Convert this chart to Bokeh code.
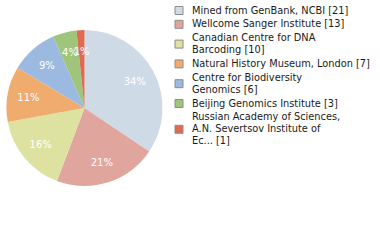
import math
from bokeh.plotting import figure
from bokeh.models import Range1d, ColumnDataSource
from bokeh.core.properties import value
from bokeh.embed import file_html
from bokeh.resources import INLINE

# ---- data ----
institutions = [
    "Mined from GenBank, NCBI",
    "Wellcome Sanger Institute",
    "Canadian Centre for DNA Barcoding",
    "Natural History Museum, London",
    "Centre for Biodiversity Genomics",
    "Beijing Genomics Institute",
    "Russian Academy of Sciences, A.N. Severtsov Institute of Ec...",
]
counts = [21, 13, 10, 7, 6, 3, 1]
legend_lines = [
    ["Mined from GenBank, NCBI [21]"],
    ["Wellcome Sanger Institute [13]"],
    ["Canadian Centre for DNA", "Barcoding [10]"],
    ["Natural History Museum, London [7]"],
    ["Centre for Biodiversity", "Genomics [6]"],
    ["Beijing Genomics Institute [3]"],
    ["Russian Academy of Sciences,", "A.N. Severtsov Institute of", "Ec... [1]"],
]
colors = ["#cfdae7", "#e0a69e", "#dde2a0", "#f0ac6e", "#9cbadf", "#9ec57b", "#e16a52"]

# ---- layout (screen-pixel coordinates: x = px, y = H - py) ----
W, H = 372, 232
p = figure(width=W, height=H, output_backend="svg", toolbar_location=None,
           x_range=Range1d(0, W), y_range=Range1d(0, H), min_border=0)
p.axis.visible = False
p.grid.visible = False
p.outline_line_color = None
p.background_fill_color = "white"
p.border_fill_color = "white"

def Y(py):
    return H - py

cx, cy, R = 84, Y(107.5), 78
total = sum(counts)
starts, ends, lx, ly, labels = [], [], [], [], []
cum = 0.0
for c in counts:
    f0 = cum / total
    f1 = (cum + c) / total
    a_end = math.pi / 2 - 2 * math.pi * f0
    a_start = math.pi / 2 - 2 * math.pi * f1
    starts.append(a_start)
    ends.append(a_end)
    mid = (a_start + a_end) / 2
    lx.append(cx + 57 * math.cos(mid))
    ly.append(cy + 57 * math.sin(mid))
    labels.append("%d%%" % int(100 * c / total))
    cum += c

src = ColumnDataSource(dict(start=starts, end=ends, color=colors))
p.wedge(x=cx, y=cy, radius=R, start_angle="start", end_angle="end",
        fill_color="color", line_color=None, source=src)
p.text(x=lx, y=ly, text=labels, text_color="white", text_align="center",
       text_baseline="middle", text_font=value("DejaVu Sans"), text_font_size="10px")

# legend
tx, ty, tt = [], [], []
sx, sy = [], []
yy = 9.5
line_h, gap = 12, 1.8
for lines in legend_lines:
    first = yy
    for ln in lines:
        tx.append(191.5)
        ty.append(Y(yy))
        tt.append(ln)
        yy += line_h
    last = yy - line_h
    sx.append(178.5)
    sy.append(Y((first + last) / 2 + 0.5))
    yy += gap

p.rect(x=sx, y=sy, width=8, height=8, fill_color=colors, line_color="#8c8c8c", line_width=1)
p.text(x=tx, y=ty, text=tt, text_color="#1a1a1a", text_align="left", text_baseline="middle",
       text_font=value("DejaVu Sans"), text_font_size="9.8px")

open("out.html", "w").write(file_html(p, INLINE))
